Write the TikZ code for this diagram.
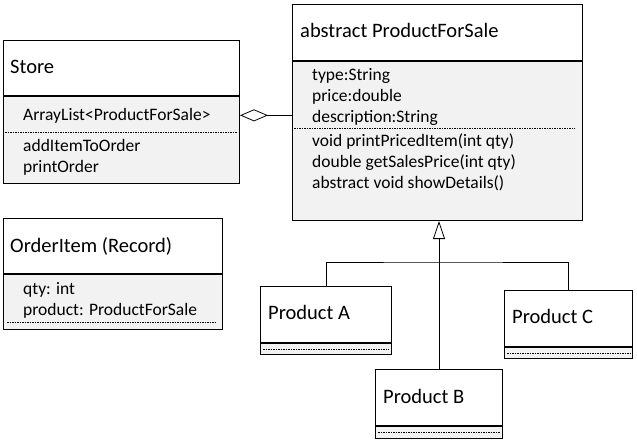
\documentclass[tikz,border=0pt]{standalone}
\usepackage{fontspec}
\setmainfont{Carlito}
\usetikzlibrary{arrows.meta}
\definecolor{bodygray}{HTML}{F2F2F2}
\begin{document}
\begin{tikzpicture}[x=1pt,y=-1pt,
    classhead/.style={draw=black, line width=1pt, fill=white, anchor=north west, inner sep=0pt},
    classbody/.style={draw=black, line width=1pt, fill=bodygray, anchor=north, inner sep=0pt},
    classname/.style={anchor=base west, inner sep=0pt, font=\fontsize{20.5}{24}\selectfont},
    member/.style={anchor=base west, inner sep=0pt, align=left, font=\fontsize{17.5}{20.6}\selectfont},
    sepline/.style={line width=.6pt, dash pattern=on 1.5pt off 1pt},
    link/.style={line width=.8pt}]
  \useasboundingbox (0,0) rectangle (637,442);
  % Store
  \node[classhead, minimum width=236pt, minimum height=55pt] (store) at (3,40) {};
  \node[classbody, minimum width=236pt, minimum height=87pt] (storebody) at (store.south) {};
  \node[classname] (storename) at (10,73) {Store};
  \node[member] (storeattr) at (23,120) {ArrayList<ProductForSale>};
  \node[member] (storeops) at (23,172) {addItemToOrder\\printOrder};
  \draw[sepline] (5,132) -- (237,132);
  % ProductForSale
  \node[classhead, minimum width=290pt, minimum height=56pt] (sale) at (292,4) {};
  \node[classbody, minimum width=290pt, minimum height=159pt] (salebody) at (sale.south) {};
  \node[classname] (salename) at (300,37) {abstract ProductForSale};
  \node[member] (saleattr) at (312,122) {type:String\\price:double\\description:String};
  \node[member] (saleops) at (312,188) {void printPricedItem(int qty)\\double getSalesPrice(int qty)\\abstract void showDetails()};
  \draw[sepline] (294,128) -- (575,128);
  % OrderItem
  \node[classhead, minimum width=219pt, minimum height=55pt] (item) at (3,218) {};
  \node[classbody, minimum width=219pt, minimum height=55pt] (itembody) at (item.south) {};
  \node[classname] (itemname) at (10,252) {OrderItem (Record)};
  \node[member] (itemattr) at (23,315) {qty: int\\product: ProductForSale};
  \draw[sepline] (7,322) -- (217,322);
  % products
  \node[classhead, minimum width=131pt, minimum height=56pt] (prodA) at (260,286) {};
  \node[classbody, minimum width=131pt, minimum height=11pt] (prodAbody) at (prodA.south) {};
  \node[classname] (prodAname) at (268,319) {Product A};
  \node[classhead, minimum width=127pt, minimum height=56pt] (prodB) at (375,369) {};
  \node[classbody, minimum width=127pt, minimum height=12pt] (prodBbody) at (prodB.south) {};
  \node[classname] (prodBname) at (383,403) {Product B};
  \node[classhead, minimum width=128pt, minimum height=56pt] (prodC) at (504,290) {};
  \node[classbody, minimum width=128pt, minimum height=11pt] (prodCbody) at (prodC.south) {};
  \node[classname] (prodCname) at (512,323) {Product C};
  \foreach \p in {prodAbody,prodBbody,prodCbody}
    \draw[sepline] ([xshift=3pt]\p.west) -- ([xshift=-3pt]\p.east);
  % relations
  \draw[link, -{Diamond[open, length=28pt, width=12pt, line width=.8pt]}] (salebody.west |- storeattr) -- (storebody.east |- storeattr);
  \draw[link, -{Triangle[open, length=18pt, width=12pt, line width=.8pt]}] (prodB.north) -- (prodB.north |- salebody.south);
  \coordinate (fork) at (prodB.north |- 0,262);
  \draw[link] (prodA.north) |- (fork) -| (prodC.north);
\end{tikzpicture}
\end{document}
